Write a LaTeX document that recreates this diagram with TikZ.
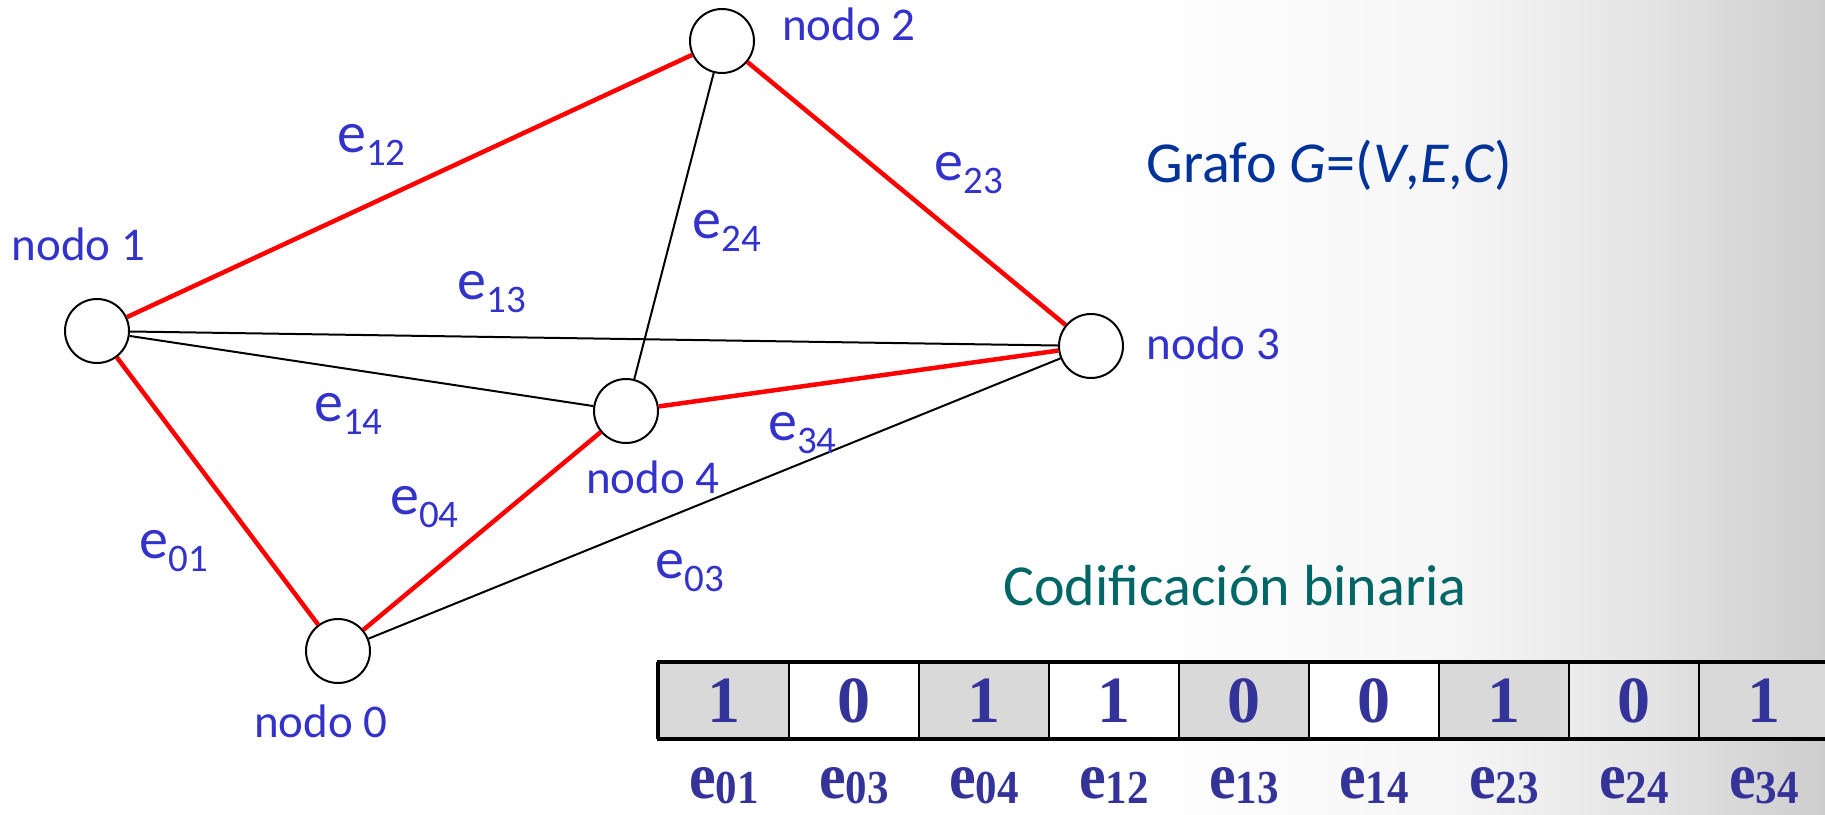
\documentclass[tikz,border=0pt]{standalone}
\usepackage{fontspec}
\setmainfont{Carlito}
\newfontfamily\tnr{Liberation Serif}
\definecolor{lblue}{RGB}{51,51,204}
\definecolor{dblue}{RGB}{0,51,153}
\definecolor{tealtx}{RGB}{0,102,102}
\definecolor{tblue}{RGB}{51,51,153}
\definecolor{cellgray}{RGB}{217,217,217}
\definecolor{bg1}{RGB}{246,246,246}
\definecolor{bg2}{RGB}{228,228,228}
\definecolor{bg3}{RGB}{205,205,205}
\newcommand\elab[1]{{\fontsize{58}{60}\selectfont e}\raisebox{-13pt}{\fontsize{39}{40}\selectfont #1}}
\newcommand\tlabtxt[1]{\scalebox{1}[1.1]{{\fontsize{60}{62}\selectfont e}\raisebox{-5pt}{\fontsize{43}{44}\selectfont #1}}}
\tikzset{
  vtx/.style={circle, draw=black, line width=2pt, fill=white, minimum size=64pt, inner sep=0pt},
  nlab/.style={text=lblue, font=\fontsize{47}{50}\selectfont, inner sep=0pt, anchor=base west},
  elabel/.style={text=lblue, inner sep=0pt, anchor=base west},
  redge/.style={draw=red, line width=4.5pt},
  bedge/.style={draw=black, line width=2pt},
  cell/.style={draw=black, line width=2.5pt, minimum width=130pt, minimum height=75pt, inner sep=0pt,
    text=tblue, font=\tnr\bfseries\fontsize{66}{68}\selectfont},
  tlab/.style={text=tblue, font=\tnr\bfseries, inner sep=0pt, anchor=base}
}
\begin{document}
\begin{tikzpicture}[x=1pt, y=-1pt]
\useasboundingbox (0,0) rectangle (1825,814);
% textured background approximation
\fill[white] (0,0) rectangle (1825,814);
\shade[left color=white, right color=bg1] (1130,0) rectangle (1450,814);
\shade[left color=bg1, right color=bg2] (1450,0) rectangle (1650,814);
\shade[left color=bg2, right color=bg3] (1650,0) rectangle (1825,814);

% vertices
\node[vtx] (n0) at (338,651) {};
\node[vtx] (n1) at (97,331) {};
\node[vtx] (n2) at (722,41) {};
\node[vtx] (n3) at (1091,346) {};
\node[vtx] (n4) at (626,411) {};

% edges
\draw[bedge] (n1) -- (n3);
\draw[bedge] (n1) -- (n4);
\draw[bedge] (n2) -- (n4);
\draw[bedge] (n0) -- (n3);
\draw[redge] (n1) -- (n2);
\draw[redge] (n2) -- (n3);
\draw[redge] (n1) -- (n0);
\draw[redge] (n0) -- (n4);
\draw[redge] (n4) -- (n3);

% vertex labels
\node[nlab] (l2) at (782,40.7) {nodo 2};
\node[nlab] (l1) at (11.6,260.7) {nodo 1};
\node[nlab] (l3) at (1146.5,359.6) {nodo 3};
\node[nlab] (l4) at (586,493.5) {nodo 4};
\node[nlab] (l0) at (254,737) {nodo 0};

% edge labels
\node[elabel] (e12) at (337,152) {\elab{12}};
\node[elabel] (e23) at (934.6,180) {\elab{23}};
\node[elabel] (e24) at (692.5,238.6) {\elab{24}};
\node[elabel] (e13) at (457.4,299) {\elab{13}};
\node[elabel] (e14) at (314,421) {\elab{14}};
\node[elabel] (e34) at (768,440) {\elab{34}};
\node[elabel] (e04) at (390,514.5) {\elab{04}};
\node[elabel] (e01) at (139.7,558.7) {\elab{01}};
\node[elabel] (e03) at (655.3,578.5) {\elab{03}};

% titles
\node[text=dblue, font=\fontsize{58}{60}\selectfont, inner sep=0pt, anchor=base west] (title) at (1146.5,182.7) {Grafo \textit{G}=(\textit{V},\textit{E},\textit{C})};
\node[text=tealtx, font=\fontsize{58}{60}\selectfont, inner sep=0pt, anchor=base west] (code) at (1003.3,605) {Codificación binaria};

% table
\foreach \i/\b/\f in {0/1/cellgray,1/0/white,2/1/cellgray,3/1/white,4/0/cellgray,5/0/white,6/1/cellgray,8/1/cellgray}
  \node[cell, fill=\f] (c\i) at ({724+130*\i},700.5) {\b};
\node[cell] (c7) at ({724+130*7},700.5) {0};
\draw[line width=4pt] ([xshift=-1.25pt]c0.north west) -- (c8.north east);
\draw[line width=4pt] ([xshift=-1.25pt]c0.south west) -- (c8.south east);
\draw[line width=3.5pt] (c0.north west) -- (c0.south west);

\foreach \i/\s in {0/01,1/03,2/04,3/12,4/13,5/14,6/23,7/24,8/34}
  \node[tlab] (t\i) at ({724+130*\i},798) {\tlabtxt{\s}};
\end{tikzpicture}
\end{document}
